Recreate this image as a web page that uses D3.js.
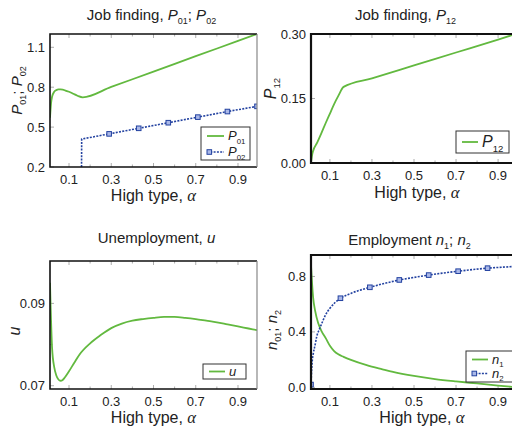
<!DOCTYPE html>
<html>
<head>
<meta charset="utf-8">
<script src="https://cdn.jsdelivr.net/npm/d3@7"></script>
<style>
  body { margin: 0; background: #fff; }
  svg { display: block; font-family: "Liberation Sans", Arial, sans-serif; }
</style>
</head>
<body>
<div id="container"></div>
<script>
const width = 512;
const height = 432;

// shared x axis (high type share alpha)
const alphaDomain = [0.01, 0.99];
const alphaTicks = [0.1, 0.3, 0.5, 0.7, 0.9];
const alphaMinor = [0.2, 0.4, 0.6, 0.8];
const markerAlphas = [0.01, 0.15, 0.29, 0.43, 0.57, 0.71, 0.85, 0.99];

// panel 1: job finding P01, P02
const p01 = [[0.01, 0.57], [0.015, 0.68], [0.02, 0.73], [0.03, 0.765], [0.04, 0.778], [0.05, 0.783],
  [0.06, 0.783], [0.07, 0.781], [0.08, 0.777], [0.10, 0.766], [0.12, 0.751], [0.14, 0.736],
  [0.165, 0.724], [0.3, 0.802], [0.5, 0.917], [0.7, 1.033], [0.9, 1.148], [0.99, 1.2]];
const p02 = [[0.159, 0.1], [0.16, 0.41], [0.29, 0.449], [0.43, 0.491], [0.57, 0.533],
  [0.71, 0.575], [0.85, 0.617], [0.99, 0.656]];
const p1Ticks = [0.2, 0.5, 0.8, 1.1];

// panel 2: job finding P12
const p12 = [[0.01, 0.0], [0.015, 0.018], [0.02, 0.028], [0.04, 0.048], [0.06, 0.070], [0.08, 0.093],
  [0.10, 0.115], [0.12, 0.137], [0.14, 0.156], [0.165, 0.177], [0.3, 0.197], [0.5, 0.227],
  [0.7, 0.257], [0.9, 0.287], [0.99, 0.301]];
const p2Ticks = [0, 0.15, 0.30];

// panel 3: unemployment u
const uRate = [[0.01, 0.0950], [0.02, 0.0790], [0.03, 0.0745], [0.04, 0.0725], [0.05, 0.0715],
  [0.06, 0.0712], [0.07, 0.0714], [0.08, 0.0720], [0.10, 0.0735], [0.125, 0.0756], [0.15, 0.0776],
  [0.20, 0.0803], [0.25, 0.0823], [0.30, 0.0840], [0.35, 0.0851], [0.40, 0.0858], [0.45, 0.0862],
  [0.50, 0.0865], [0.55, 0.0867], [0.60, 0.0867], [0.65, 0.0865], [0.70, 0.0862], [0.75, 0.0858],
  [0.80, 0.0854], [0.85, 0.0849], [0.90, 0.0844], [0.95, 0.0839], [0.99, 0.0835]];
const p3Ticks = [0.07, 0.09];
const p3Minor = [0.08];

// panel 4: employment n1, n2
const n1 = [[0.01, 0.88], [0.015, 0.75], [0.02, 0.65], [0.03, 0.55], [0.045, 0.46], [0.06, 0.405],
  [0.08, 0.355], [0.10, 0.30], [0.12, 0.262], [0.14, 0.238], [0.165, 0.22], [0.20, 0.198],
  [0.275, 0.16], [0.35, 0.13], [0.40, 0.111], [0.50, 0.082], [0.60, 0.06], [0.70, 0.043],
  [0.80, 0.028], [0.90, 0.013], [0.99, 0.0]];
const n2 = [[0.01, 0.02], [0.013, 0.12], [0.016, 0.19], [0.021, 0.245], [0.03, 0.31], [0.037, 0.365],
  [0.05, 0.42], [0.061, 0.46], [0.08, 0.525], [0.10, 0.57], [0.125, 0.612], [0.15, 0.643],
  [0.20, 0.678], [0.29, 0.722], [0.36, 0.75], [0.43, 0.775], [0.50, 0.793], [0.57, 0.81],
  [0.64, 0.825], [0.71, 0.838], [0.78, 0.85], [0.85, 0.86], [0.92, 0.867], [0.99, 0.873]];
const p4Ticks = [0, 0.4, 0.8];

const green = "#62b93f";
const blue = "#2342a0";

const svg = d3.select("#container").append("svg")
  .attr("width", width).attr("height", height);

// text made of parts: {t, i: italic, s: subscript, a: alpha symbol}
function rich(sel, parts, size) {
  let shift = 0;
  parts.forEach(p => {
    const ts = sel.append("tspan").text(p.t);
    if (shift) { ts.attr("dy", -shift); shift = 0; }
    if (p.i) ts.style("font-style", "italic");
    if (p.a) ts.style("font-family", "'Liberation Serif', 'DejaVu Serif', serif").style("font-style", "italic").attr("font-size", size * 1.05);
    if (p.s) {
      shift = size * 0.28;
      ts.attr("font-size", size * 0.6).attr("dy", shift);
    }
  });
  return sel;
}

const alphaTitle = [{ t: "High type, " }, { t: "α", a: true }];

function panel(o) {
  const x = d3.scaleLinear().domain(alphaDomain).range(o.xr);
  const y = d3.scaleLinear().domain(o.yd).range(o.yr);
  const g = svg.append("g");
  const [x0, x1] = o.xr;
  const [y0, y1] = o.yr; // y0 bottom, y1 top

  g.append("clipPath").attr("id", o.id).append("rect")
    .attr("x", x0).attr("y", y1).attr("width", x1 - x0).attr("height", y0 - y1);

  // ticks inside the frame
  const ticks = g.append("g").attr("stroke", "#999").attr("stroke-width", 0.8);
  alphaTicks.concat(alphaMinor).forEach(v => {
    const len = alphaTicks.includes(v) ? 4 : 2.5;
    ticks.append("line").attr("x1", x(v)).attr("x2", x(v)).attr("y1", y0).attr("y2", y0 - len);
    ticks.append("line").attr("x1", x(v)).attr("x2", x(v)).attr("y1", y1).attr("y2", y1 + len);
  });
  o.yt.concat(o.ym || []).forEach(v => {
    const len = o.yt.includes(v) ? 4 : 2.5;
    ticks.append("line").attr("x1", x0).attr("x2", x0 + len).attr("y1", y(v)).attr("y2", y(v));
  });

  // tick labels
  g.append("g").selectAll("text").data(alphaTicks).join("text")
    .attr("x", d => x(d)).attr("y", y0 + 17)
    .attr("text-anchor", "middle").attr("font-size", 13).attr("fill", "#222")
    .text(d3.format(".1f"));
  g.append("g").selectAll("text").data(o.yt).join("text")
    .attr("x", x0 - 5).attr("y", d => y(d) + 4.5)
    .attr("text-anchor", "end").attr("font-size", 13).attr("fill", "#222")
    .text(d3.format(o.yf));

  // series
  const plot = g.append("g").attr("clip-path", `url(#${o.id})`);
  o.series.forEach(s => {
    const line = d3.line().x(d => x(d[0])).y(d => y(d[1]))
      .curve(s.linear ? d3.curveLinear : d3.curveMonotoneX);
    plot.append("path").datum(s.data)
      .attr("fill", "none").attr("stroke", s.color).attr("stroke-width", s.dash ? 1.6 : 1.8)
      .attr("stroke-dasharray", s.dash ? "2,1.3" : null)
      .attr("d", line);
    if (s.markers) {
      plot.selectAll(null).data(s.data.filter(d => markerAlphas.includes(d[0]))).join("rect")
        .attr("x", d => x(d[0]) - 2.3).attr("y", d => y(d[1]) - 2.3)
        .attr("width", 4.6).attr("height", 4.6)
        .attr("fill", "#aab8e8").attr("stroke", s.color).attr("stroke-width", 1);
    }
  });

  // frame
  const frame = g.append("g").attr("fill", "none");
  frame.append("path")
    .attr("d", `M${x1},${y1}H${x0}V${y0}H${x1}`)
    .attr("stroke", "#111").attr("stroke-width", o.fw);
  if (o.rightEdge) {
    frame.append("line").attr("x1", x1).attr("x2", x1).attr("y1", y1).attr("y2", y0)
      .attr("stroke", "#888").attr("stroke-width", 1.2);
  }

  // titles
  rich(svg.append("text").attr("x", (x0 + Math.min(x1, 512)) / 2 + (o.tdx || 0)).attr("y", o.ty)
    .attr("text-anchor", "middle").attr("font-size", 15).attr("fill", "#222"), o.title, 15);
  rich(svg.append("text").attr("x", (x0 + x1) / 2 + (o.adx || 0)).attr("y", y0 + o.ady)
    .attr("text-anchor", "middle").attr("font-size", 16).attr("fill", "#222"), alphaTitle, 16);
  rich(svg.append("text")
    .attr("transform", `translate(${o.yx},${(y0 + y1) / 2 + (o.ydy || 0)}) rotate(-90)`)
    .attr("text-anchor", "middle").attr("font-size", o.yfs).attr("fill", "#222"), o.ytitle, o.yfs);

  // legend
  const L = o.legend;
  const lg = svg.append("g");
  lg.append("rect").attr("x", L.x).attr("y", L.y).attr("width", L.w).attr("height", L.h)
    .attr("fill", "#fff").attr("stroke", "#333").attr("stroke-width", 1);
  L.items.forEach((it, i) => {
    const s = o.series[i];
    const cy = L.y + L.pad + i * L.step;
    lg.append("line").attr("x1", L.x + 6).attr("x2", L.x + 6 + L.len).attr("y1", cy).attr("y2", cy)
      .attr("stroke", s.color).attr("stroke-width", s.dash ? 1.6 : 1.8)
      .attr("stroke-dasharray", s.dash ? "2,1.3" : null);
    if (s.markers) {
      lg.append("rect").attr("x", L.x + 6).attr("y", cy - 2.3).attr("width", 4.6).attr("height", 4.6)
        .attr("fill", "#aab8e8").attr("stroke", s.color).attr("stroke-width", 1);
    }
    rich(lg.append("text").attr("x", L.x + 10 + L.len).attr("y", cy + L.fs * 0.33)
      .attr("font-size", L.fs).attr("fill", "#222"), it, L.fs);
  });
}

panel({
  id: "c1", xr: [50, 257], yr: [167, 34], yd: [0.2, 1.2], yt: p1Ticks, yf: ".1f", fw: 1.6, rightEdge: true,
  ty: 20, yx: 22, tdx: -2, ady: 34, ydy: -10, yfs: 15,
  title: [{ t: "Job finding, " }, { t: "P", i: true }, { t: "01", s: true }, { t: "; " }, { t: "P", i: true }, { t: "02", s: true }],
  ytitle: [{ t: "P", i: true }, { t: "01", s: true }, { t: "; " }, { t: "P", i: true }, { t: "02", s: true }],
  series: [{ data: p01, color: green }, { data: p02, color: blue, dash: true, markers: true, linear: true }],
  legend: { x: 201, y: 127, w: 49, h: 33, pad: 9, step: 16, len: 17, fs: 13,
    items: [[{ t: "P", i: true }, { t: "01", s: true }], [{ t: "P", i: true }, { t: "02", s: true }]] }
});

panel({
  id: "c2", xr: [311, 517], yr: [163, 34], yd: [0, 0.30], yt: p2Ticks, yf: ".2f", fw: 2.2,
  ty: 20, yx: 276, tdx: -6, adx: 3, ady: 35, ydy: -10, yfs: 16,
  title: [{ t: "Job finding, " }, { t: "P", i: true }, { t: "12", s: true }],
  ytitle: [{ t: "P", i: true }, { t: "12", s: true }],
  series: [{ data: p12, color: green }],
  legend: { x: 456, y: 131, w: 53, h: 22, pad: 11, step: 16, len: 16, fs: 16,
    items: [[{ t: "P", i: true }, { t: "12", s: true }]] }
});

panel({
  id: "c3", xr: [50, 257], yr: [389, 261], yd: [0.0692, 0.1003], yt: p3Ticks, ym: p3Minor, yf: ".2f", fw: 1.6, rightEdge: true,
  ty: 243, yx: 20, tdx: 3, ady: 34, ydy: 6, yfs: 16,
  title: [{ t: "Unemployment, " }, { t: "u", i: true }],
  ytitle: [{ t: "u", i: true }],
  series: [{ data: uRate, color: green }],
  legend: { x: 203, y: 364, w: 43, h: 15, pad: 7.5, step: 16, len: 16, fs: 13,
    items: [[{ t: "u", i: true }]] }
});

panel({
  id: "c4", xr: [311, 517], yr: [389, 255], yd: [-0.012, 0.955], yt: p4Ticks, yf: ".1f", fw: 2.2,
  ty: 245, yx: 277, tdx: -2, adx: 8, ady: 34, ydy: 8, yfs: 15,
  title: [{ t: "Employment " }, { t: "n", i: true }, { t: "1", s: true }, { t: "; " }, { t: "n", i: true }, { t: "2", s: true }],
  ytitle: [{ t: "n", i: true }, { t: "01", s: true }, { t: "; " }, { t: "n", i: true }, { t: "2", s: true }],
  series: [{ data: n1, color: green }, { data: n2, color: blue, dash: true, markers: true }],
  legend: { x: 466, y: 351, w: 50, h: 31, pad: 8.5, step: 14, len: 16, fs: 13,
    items: [[{ t: "n", i: true }, { t: "1", s: true }], [{ t: "n", i: true }, { t: "2", s: true }]] }
});
</script>
</body>
</html>
